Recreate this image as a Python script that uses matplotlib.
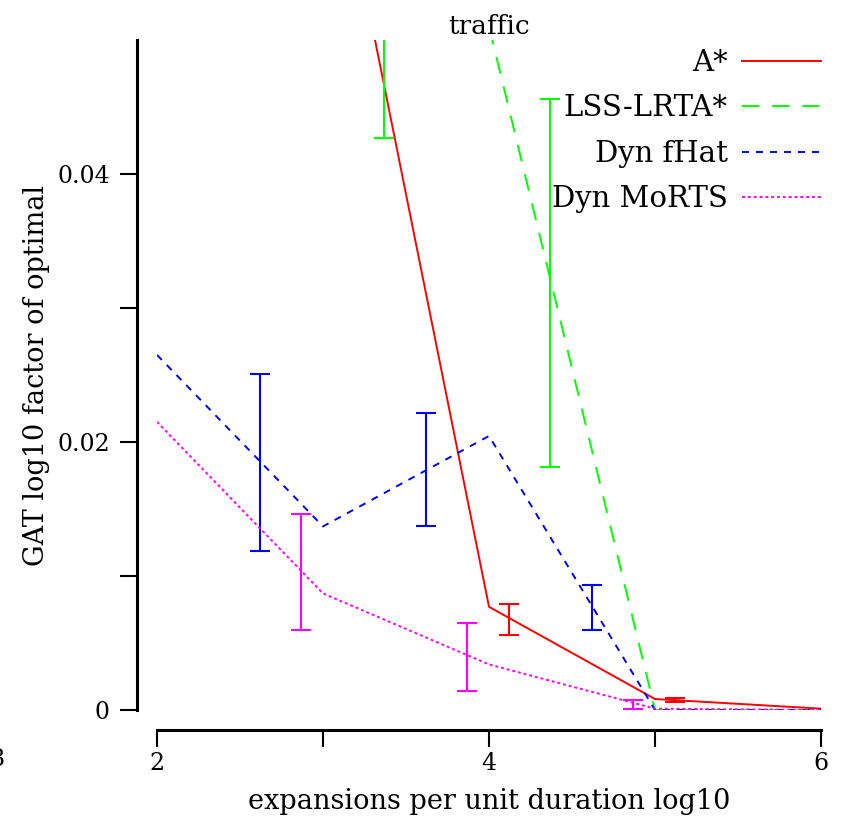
import numpy as np
import matplotlib
matplotlib.use('Agg')
import matplotlib.pyplot as plt

plt.rcParams['font.family'] = ['DejaVu Serif']

x = np.array([2, 3, 4, 5, 6])
series = ['A*', 'LSS-LRTA*', 'Dyn fHat', 'Dyn MoRTS']
colors = ['#ff0000', '#00ff00', '#0000ff', '#ff00ff']
offsets = [0.12, 0.37, 0.62, 0.87]

# mean lines (values above 0.05 fall outside the plotted range)
astar = [0.12, 0.0693, 0.0077, 0.00082, 0.0001]
lss = [0.10, 0.09, 0.051, 0.0, 0.0]
fhat = [0.0265, 0.0137, 0.02045, 0.0, 0.0]
morts = [0.0215, 0.0087, 0.0034, 0.0001, 0.0]

# error bar lower / upper bounds
astar_lo = [0.11, 0.058, 0.0056, 0.0006, np.nan]
astar_hi = [0.14, 0.080, 0.0079, 0.0009, np.nan]
lss_lo = [0.10, 0.0427, 0.0181, np.nan, np.nan]
lss_hi = [0.13, 0.0750, 0.0456, np.nan, np.nan]
fhat_lo = [0.0119, 0.0137, 0.0060, np.nan, np.nan]
fhat_hi = [0.0251, 0.0222, 0.0093, np.nan, np.nan]
morts_lo = [0.0060, 0.0014, 0.00007, np.nan, np.nan]
morts_hi = [0.0146, 0.0065, 0.00075, np.nan, np.nan]

means = [astar, lss, fhat, morts]
los = [astar_lo, lss_lo, fhat_lo, morts_lo]
his = [astar_hi, lss_hi, fhat_hi, morts_hi]
dashes = [None, (8.8, 6.7), (3.6, 3.6), (1.5, 1.5)]

fig = plt.figure(figsize=(8.46, 8.19), dpi=100)
ax = fig.add_axes([157/846, 109/819, 664/846, 670/819])

for name, m, lo, hi, c, off, d in zip(series, means, los, his, colors, offsets, dashes):
    line, = ax.plot(x, m, color=c, lw=1.4, label=name)
    if d is not None:
        line.set_dashes(d)
    lo = np.array(lo)
    hi = np.array(hi)
    ax.errorbar(x + off, (lo + hi) / 2, yerr=(hi - lo) / 2, fmt='none',
                ecolor=c, elinewidth=1.5, capsize=7, capthick=1.5)

ax.set_xlim(2, 6)
ax.set_ylim(0, 0.05)
ax.set_xticks([2, 4, 6])
ax.set_xticks([3, 5], minor=True)
ax.set_yticks([0, 0.02, 0.04])
ax.set_yticklabels(['0', '0.02', '0.04'])
ax.set_yticks([0.01, 0.03], minor=True)

for s in ['top', 'right']:
    ax.spines[s].set_visible(False)
ax.spines['left'].set_position(('outward', 14.4))
ax.spines['bottom'].set_position(('outward', 14.4))
ax.spines['left'].set_linewidth(2.2)
ax.spines['bottom'].set_linewidth(2.2)
ax.tick_params(which='both', length=12.5, width=1.5, labelsize=17)
ax.tick_params(axis='y', pad=7)
ax.tick_params(axis='x', pad=3)

ax.set_xlabel('expansions per unit duration log10', fontsize=19.5, labelpad=9.5)
ax.set_ylabel('GAT log10 factor of optimal', fontsize=19.5, labelpad=5)
ax.set_title('traffic', fontsize=19, pad=4.5)

ax.legend(loc='upper right', frameon=False, markerfirst=False, fontsize=21,
          handlelength=2.7, labelspacing=0.6, borderaxespad=0, borderpad=0,
          handletextpad=0.5, bbox_to_anchor=(1.0, 0.987))

fig.text(-0.004, 1 - 760/819, '8', fontsize=17, ha='center', va='center')

fig.savefig('out.png', dpi=100)
